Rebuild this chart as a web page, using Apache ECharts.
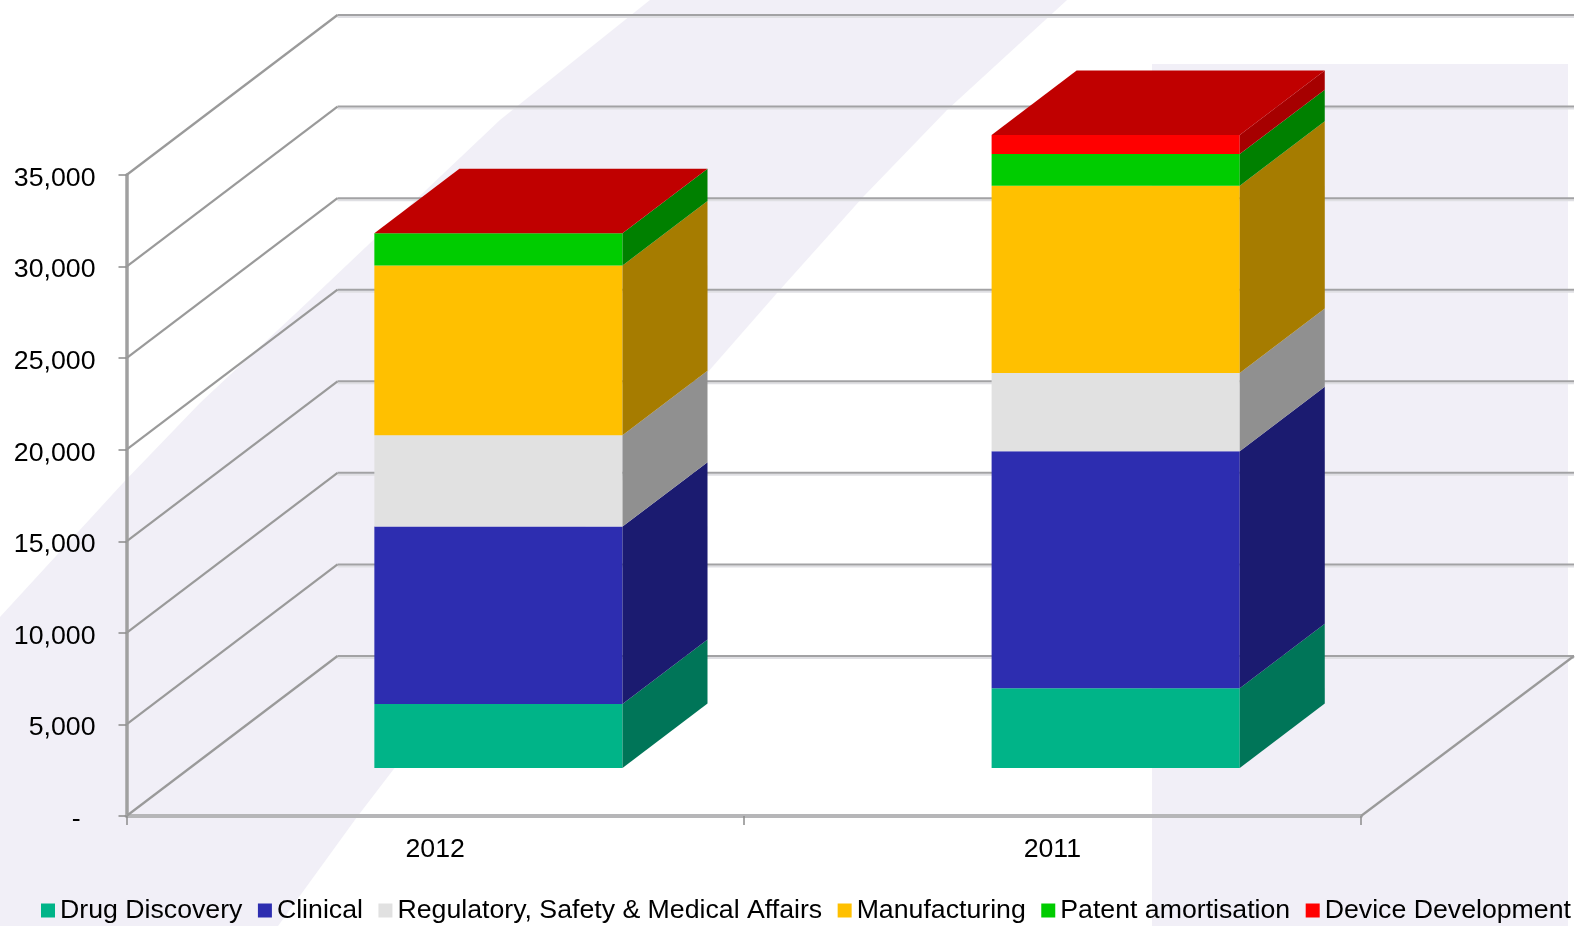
<!DOCTYPE html>
<html>
<head>
<meta charset="utf-8">
<style>html,body{margin:0;padding:0;background:#fff;overflow:hidden}#chart{width:1576px;height:926px}</style>
<script src="https://cdn.jsdelivr.net/npm/echarts@6/dist/echarts.min.js"></script>
</head>
<body>
<div id="chart"></div>
<script>
var categories = ['2012', '2011'];
var yTicks = [0, 5000, 10000, 15000, 20000, 25000, 30000, 35000];
var yTickLabels = ['-  ', '5,000', '10,000', '15,000', '20,000', '25,000', '30,000', '35,000'];

var drugDiscovery = [3490, 4350];
var clinical = [9690, 12940];
var regulatory = [4990, 4280];
var manufacturing = [9270, 10220];
var patentAmortisation = [1760, 1730];
var deviceDevelopment = [0, 1050];

var seriesNames = ['Drug Discovery', 'Clinical', 'Regulatory, Safety & Medical Affairs', 'Manufacturing', 'Patent amortisation', 'Device Development'];
var seriesValues = [drugDiscovery, clinical, regulatory, manufacturing, patentAmortisation, deviceDevelopment];
var frontColors = ['#00B488', '#2D2DB0', '#E1E1E1', '#FFC000', '#00CC00', '#FF0000'];
var sideColors = ['#007558', '#1B1B70', '#909090', '#A67C00', '#008000', '#A60000'];
var topColor = '#C00000';

var DEPTH_X = 211, DEPTH_Y = 160;   // projected vector of the full chart depth
var BAR_NEAR = 0.30, BAR_DEPTH = 0.403, BAR_WIDTH = 0.402;

function wallItem(params, api) {
  var v = api.value(0);
  var front = api.coord([0, v]);
  var rect = params.coordSys;
  var x0 = rect.x, y = front[1];
  var bx = x0 + DEPTH_X, by = y - DEPTH_Y, xEnd = rect.x + rect.width + DEPTH_X + 2;
  var children = [
    {type: 'line', shape: {x1: bx, y1: by + 2, x2: xEnd, y2: by + 2}, style: {stroke: '#dfdfe3', lineWidth: 2}},
    {type: 'line', shape: {x1: bx, y1: by, x2: xEnd, y2: by}, style: {stroke: '#a2a2a4', lineWidth: 2}},
    {type: 'line', shape: {x1: x0, y1: y, x2: bx, y2: by}, style: {stroke: '#9a9a9a', lineWidth: 2.2}}
  ];
  if (v === 0) {
    var fx = rect.x + rect.width;
    children.push({type: 'line', shape: {x1: fx, y1: y, x2: fx + DEPTH_X + 2, y2: by}, style: {stroke: '#9a9a9a', lineWidth: 2.2}});
  }
  return {type: 'group', children: children};
}

function barItem(idx) {
  return function (params, api) {
    var cat = api.value(0), lo = api.value(1), hi = api.value(2);
    var a = api.coord([cat, lo]), b = api.coord([cat, hi]);
    var band = api.size([1, 0])[0];
    var w = band * BAR_WIDTH;
    var ox = DEPTH_X * BAR_NEAR, oy = DEPTH_Y * BAR_NEAR;
    var dx = DEPTH_X * BAR_DEPTH, dy = DEPTH_Y * BAR_DEPTH;
    var L = a[0] + ox - w / 2, R = L + w, yLo = a[1] - oy, yHi = b[1] - oy;
    var children = [];
    if (hi > lo) {
      children.push({type: 'rect', shape: {x: L, y: yHi, width: w, height: yLo - yHi}, style: {fill: frontColors[idx]}});
      children.push({type: 'polygon', shape: {points: [[R, yLo], [R + dx, yLo - dy], [R + dx, yHi - dy], [R, yHi]]}, style: {fill: sideColors[idx]}});
    }
    if (idx === seriesValues.length - 1) {
      children.push({type: 'polygon', shape: {points: [[L, yHi], [R, yHi], [R + dx, yHi - dy], [L + dx, yHi - dy]]}, style: {fill: topColor}});
    }
    return {type: 'group', children: children};
  };
}

var series = [{
  type: 'custom', name: 'walls', silent: true, z: 1, clip: false,
  renderItem: wallItem, data: yTicks.map(function (t) { return [t]; }), encode: {y: 0}
}];
var running = categories.map(function () { return 0; });
seriesValues.forEach(function (vals, idx) {
  var data = vals.map(function (v, c) {
    var row = [c, running[c], running[c] + v];
    running[c] += v;
    return row;
  });
  series.push({
    type: 'custom', name: seriesNames[idx], z: 3, clip: false, silent: true,
    itemStyle: {color: frontColors[idx]},
    renderItem: barItem(idx), data: data, encode: {x: 0, y: [1, 2]}
  });
});

var font = '"Liberation Sans", Arial, sans-serif';
var chart = echarts.init(document.getElementById('chart'), null, {renderer: 'canvas'});
chart.setOption({
  animation: false,
  backgroundColor: '#fff',
  tooltip: {show: false},
  grid: {left: 126.5, right: 215, top: 175, bottom: 110, containLabel: false},
  graphic: [
    {type: 'polygon', z: -10, silent: true, shape: {points: [[650, 0], [1067, 0], [947, 110], [863, 197], [777, 293], [707, 373], [393, 770], [357, 817], [278, 926], [0, 926], [0, 617], [123, 483], [200, 403], [310, 300], [500, 120]]}, style: {fill: '#F1EFF7'}},
    {type: 'rect', z: -10, silent: true, shape: {x: 1152, y: 64, width: 416, height: 862}, style: {fill: '#F1EFF7'}}
  ],
  legend: {
    left: 41, top: 897, itemWidth: 14, itemHeight: 14, itemGap: 15.5, icon: 'rect', selectedMode: false,
    data: seriesNames, padding: 0,
    textStyle: {fontFamily: font, fontSize: 26.7, color: '#000'}
  },
  xAxis: {
    type: 'category', data: categories, boundaryGap: true,
    axisLine: {onZero: false, lineStyle: {color: '#b6b6b8', width: 4}},
    axisTick: {show: true, length: 9, lineStyle: {color: '#8c8c8c', width: 1.5}},
    axisLabel: {fontFamily: font, fontSize: 26.7, color: '#000', margin: 20},
    splitLine: {show: false}
  },
  yAxis: {
    type: 'value', min: 0, max: 35000, interval: 5000,
    axisLine: {show: true, lineStyle: {color: '#a0a0a0', width: 3.5}},
    axisTick: {show: true, length: 8, lineStyle: {color: '#8c8c8c', width: 1.5}},
    axisLabel: {
      fontFamily: font, fontSize: 26.7, color: '#000', margin: 31, verticalAlign: 'top', lineHeight: 7,
      formatter: function (v) { return yTickLabels[yTicks.indexOf(v)]; }
    },
    splitLine: {show: false}
  },
  series: series
});
</script>
</body>
</html>
